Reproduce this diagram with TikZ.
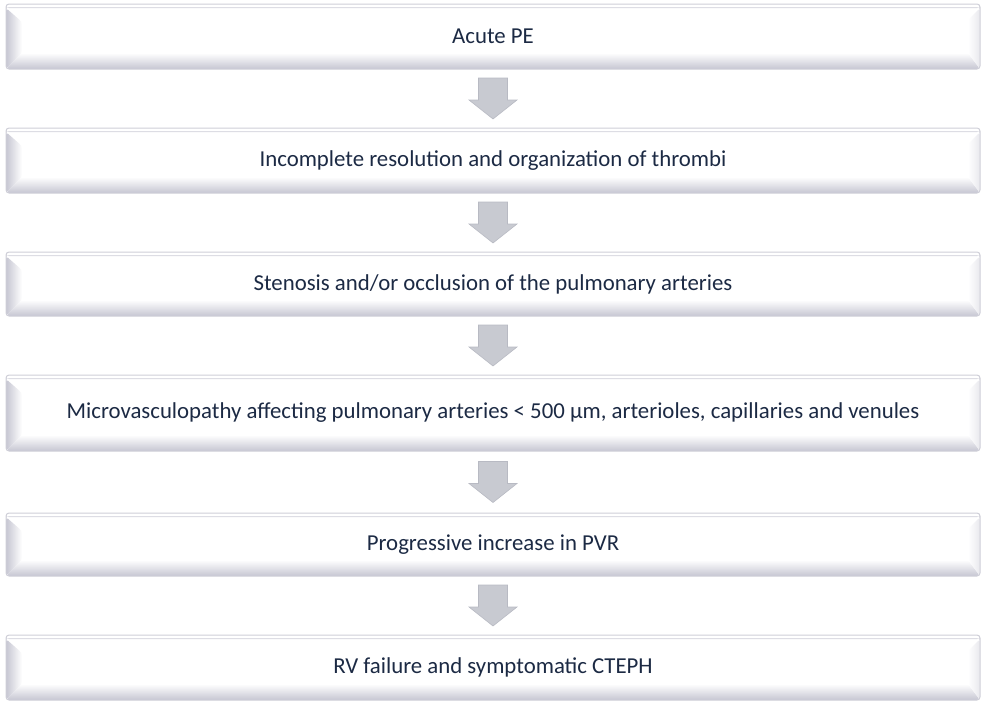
\documentclass[tikz,border=0pt]{standalone}
\usepackage{fontspec}
\setmainfont{Carlito}
\usetikzlibrary{calc}
\definecolor{txt}{HTML}{1C2A44}
\definecolor{edge}{HTML}{CFCFD8}
\definecolor{bev}{HTML}{C6C6D2}
\definecolor{arrfill}{HTML}{C8CAD1}
\definecolor{arredge}{HTML}{B8BAC3}
\tikzset{
  bevelbox/.style={draw=edge, line width=1pt, fill=white, rounded corners=3pt,
    minimum width=974pt, text=txt, font=\fontsize{22.8}{27}\selectfont, inner sep=0pt,
    path picture={
      \coordinate (sw) at (path picture bounding box.south west);
      \coordinate (se) at (path picture bounding box.south east);
      \coordinate (nw) at (path picture bounding box.north west);
      \coordinate (ne) at (path picture bounding box.north east);
      \shade[left color=bev, right color=white, draw=none]
        ($(nw)+(0pt,-4pt)$) -- ($(nw)+(16pt,-18pt)$) -- ($(sw)+(16pt,16pt)$) -- ($(sw)+(0pt,0pt)$) -- cycle;
      \shade[bottom color=bev, top color=white, draw=none]
        (sw) -- ($(sw)+(16pt,16pt)$) -- ($(se)+(-12pt,16pt)$) -- (se) -- cycle;
      \shade[left color=white, right color=bev!40, draw=none]
        ($(ne)+(0pt,-4pt)$) -- ($(ne)+(-12pt,-16pt)$) -- ($(se)+(-12pt,16pt)$) -- (se) -- cycle;
      \fill[bev!60] ($(nw)+(0pt,-3pt)$) -- ($(ne)+(0pt,-3pt)$) -- ($(ne)+(0pt,-4pt)$) -- ($(nw)+(0pt,-4pt)$) -- cycle;
    }},
  blockarrow/.style={fill=arrfill, draw=arredge, line width=0.6pt, line join=miter}
}
\newcommand{\downarrowblock}[1]{%
  \draw[blockarrow] ([shift={(-14.5,-20.5)}]#1) -- ([shift={(14.5,-20.5)}]#1) --
    ([shift={(14.5,1.5)}]#1) -- ([shift={(24,1.5)}]#1) -- ([shift={(0,20.5)}]#1) --
    ([shift={(-24,1.5)}]#1) -- ([shift={(-14.5,1.5)}]#1) -- cycle;}
\begin{document}
\begin{tikzpicture}[x=1pt,y=-1pt]
\useasboundingbox (0,0) rectangle (986,710);
\node[bevelbox, minimum height=65pt] (b1) at (493,36.5) {Acute PE};
\node[bevelbox, minimum height=65pt] (b2) at (493,160.5) {Incomplete resolution and organization of thrombi};
\node[bevelbox, minimum height=64pt] (b3) at (493,284) {Stenosis and/or occlusion of the pulmonary arteries};
\node[bevelbox, minimum height=76pt] (b4) at (493,413) {Microvasculopathy affecting pulmonary arteries < 500 µm, arterioles, capillaries and venules};
\node[bevelbox, minimum height=63pt] (b5) at (493,544.5) {Progressive increase in PVR};
\node[bevelbox, minimum height=65pt] (b6) at (493,667.5) {RV failure and symptomatic CTEPH};
\coordinate (a1) at ($(b1.south)!0.5!(b2.north)$);
\coordinate (a2) at ($(b2.south)!0.5!(b3.north)$);
\coordinate (a3) at ($(b3.south)!0.5!(b4.north)$);
\coordinate (a4) at ($(b4.south)!0.5!(b5.north)$);
\coordinate (a5) at ($(b5.south)!0.5!(b6.north)$);
\downarrowblock{a1}
\downarrowblock{a2}
\downarrowblock{a3}
\downarrowblock{a4}
\downarrowblock{a5}
\end{tikzpicture}
\end{document}
